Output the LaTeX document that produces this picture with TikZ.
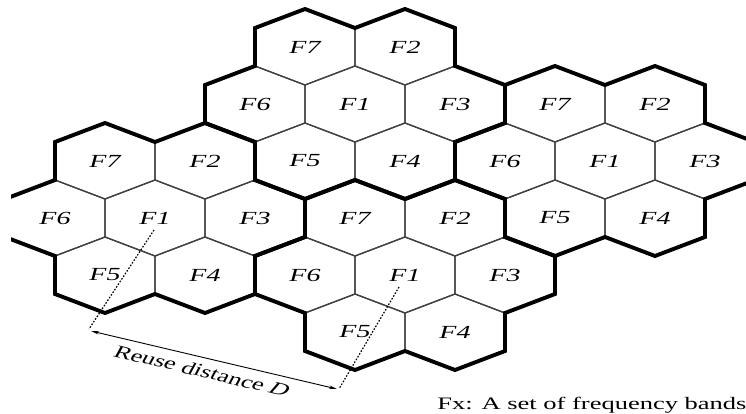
\documentclass[tikz,border=0pt]{standalone}
\usepackage{fontspec}
\setmainfont{Liberation Serif}
\usepackage{graphicx}
\usetikzlibrary{arrows.meta}

% text is set wide and flat, like the cell layout itself
\newcommand{\flattxt}[1]{\scalebox{1}[0.66]{#1}}

\begin{document}
\begin{tikzpicture}[x=1pt, y=-1pt,
  cell/.style={draw=black!75, line width=1.25pt},
  cluster/.style={draw=black, line width=3.9pt, line join=miter},
  lab/.style={font=\fontsize{28}{28}\selectfont\itshape, inner sep=0pt},
  guide/.style={line width=1.2pt, dash pattern=on 1.6pt off 1.6pt},
  dim/.style={line width=0.9pt, {Stealth[length=8pt,width=3.5pt]}-{Stealth[length=8pt,width=3.5pt]}},
  notetext/.style={font=\fontsize{26.5}{26}\selectfont, inner sep=0pt}]

\useasboundingbox (0,0) rectangle (746,414);

% cells of the four 7-cell clusters (centre cell F1 and its six neighbours)
\begin{scope}
  \clip (11,0) rectangle (746,414);
  \foreach \cx/\cy in {355/104, 155/218, 405/275, 605/161} {
    \foreach \dx/\dy in {0/0, -50/-57, 50/-57, -100/0, 100/0, -50/57, 50/57} {
      \draw[cell] ({\cx+(\dx)},{\cy+(\dy)}) ++(0,-38) -- ++(50,19) -- ++(0,38)
        -- ++(-50,19) -- ++(-50,-19) -- ++(0,-38) -- cycle;
    }
  }
  % heavy outline round each cluster
  \foreach \cx/\cy in {355/104, 155/218, 405/275, 605/161} {
    \draw[cluster, shift={(\cx,\cy)}]
      (-100,-38) -- (-100,-76) -- (-50,-95) -- (0,-76) -- (50,-95) -- (100,-76)
      -- (100,-38) -- (150,-19) -- (150,19) -- (100,38) -- (100,76) -- (50,95)
      -- (0,76) -- (-50,95) -- (-100,76) -- (-100,38) -- (-150,19) -- (-150,-19)
      -- cycle;
  }
\end{scope}

% band labels
\foreach \cx/\cy/\p in {355/104/T, 155/218/L, 405/275/B, 605/161/R} {
  \foreach \dx/\dy/\f in {0/0/1, -50/-57/7, 50/-57/2, -100/0/6, 100/0/3, -50/57/5, 50/57/4} {
    \node[lab] (\p\f) at ({\cx+(\dx)},{\cy+(\dy)}) {\flattxt{F\f}};
  }
}

% reuse distance between two co-channel cells
\coordinate (gl0) at (154,230);
\coordinate (gl1) at (89,329);
\coordinate (gr0) at (399,287);
\coordinate (gr1) at (339,389);
\coordinate (al) at (91,331);
\coordinate (ar) at (337,389);
\draw[guide] (gl0) -- (gl1);
\draw[guide] (gr0) -- (gr1);
\draw[dim] (al) -- (ar);
\node[notetext] (reuse) at (202,371) {\flattxt{\rotatebox{-19.7}{Reuse distance \textit{D}}}};

\node[notetext, anchor=base] (note) at (592,409) {\flattxt{Fx: A set of frequency bands}};
\end{tikzpicture}
\end{document}
